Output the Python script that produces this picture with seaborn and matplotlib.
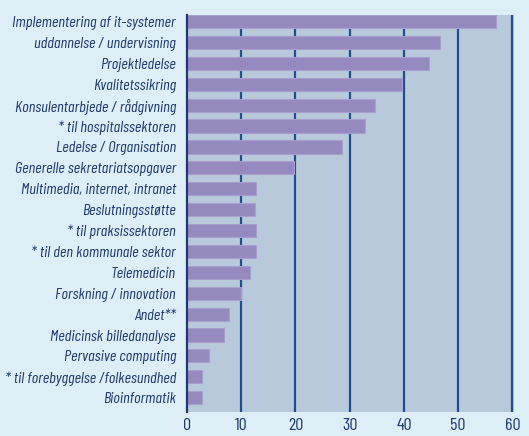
import matplotlib
matplotlib.use("Agg")
import matplotlib.pyplot as plt
import seaborn as sns
import pandas as pd

# Data
kategorier = [
    "Implementering af it-systemer",
    "uddannelse / undervisning",
    "Projektledelse",
    "Kvalitetssikring",
    "Konsulentarbjede / rådgivning",
    "* til hospitalssektoren",
    "Ledelse / Organisation",
    "Generelle sekretariatsopgaver",
    "Multimedia, internet, intranet",
    "Beslutningsstøtte",
    "* til praksissektoren",
    "* til den kommunale sektor",
    "Telemedicin",
    "Forskning / innovation",
    "Andet**",
    "Medicinsk billedanalyse",
    "Pervasive computing",
    "* til forebyggelse /folkesundhed",
    "Bioinformatik",
]
vaerdier = [56.9, 46.7, 44.7, 39.7, 34.7, 32.8, 28.5, 19.7, 12.8, 12.6,
            12.7, 12.7, 11.7, 10.0, 7.8, 6.9, 4.0, 2.8, 2.8]
xticks = [0, 10, 20, 30, 40, 50, 60]

df = pd.DataFrame({"kategori": kategorier, "vaerdi": vaerdier})

sns.set_style("white")
plt.rcParams["font.family"] = ["Barlow Condensed", "DejaVu Sans"]

bg = "#deeef7"
navy = "#1f3a6e"

fig = plt.figure(figsize=(5.29, 4.36), dpi=100, facecolor=bg)
ax = fig.add_axes([187 / 529, 1 - 412 / 436, 327 / 529, 397 / 436])
ax.set_facecolor("#b8c9db")

sns.barplot(data=df, y="kategori", x="vaerdi", orient="h", color="#9689c0",
            saturation=1, width=0.63, edgecolor="#a89fcf", linewidth=0.8, ax=ax)

for x in xticks[1:]:
    ax.axvline(x, color="#1f4e8a", lw=1.6, zorder=0.5)

ax.set_xlim(0, 60.3)
ax.set_ylim(18.685, -0.315)
ax.set_xticks(xticks)
ax.set_xlabel("")
ax.set_ylabel("")
ax.tick_params(axis="y", length=0, pad=8, labelsize=11.7, labelcolor=navy)
ax.tick_params(axis="x", length=0, pad=4, labelsize=13, labelcolor=navy)
for lab in ax.get_yticklabels():
    lab.set_style("italic")

for s in ["top", "right", "bottom"]:
    ax.spines[s].set_visible(False)
ax.spines["left"].set_color("#1f3a6e")
ax.spines["left"].set_linewidth(1.6)

fig.savefig("out.png", dpi=100, facecolor=bg)
